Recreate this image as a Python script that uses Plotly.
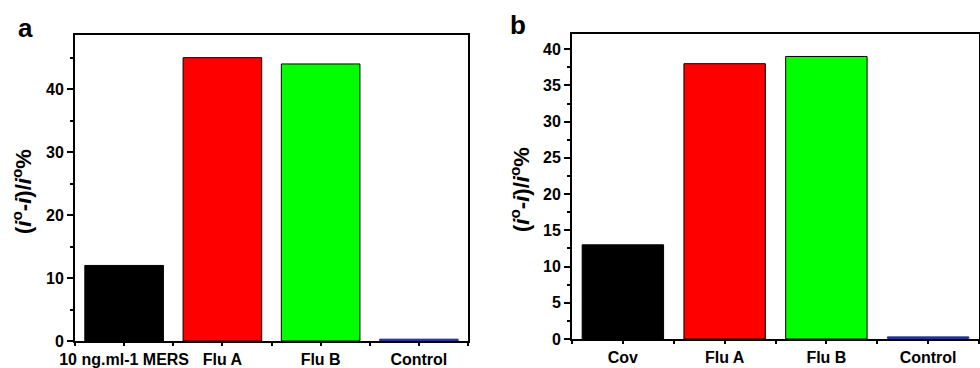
import plotly.graph_objects as go

cats_a = ["10 ng.ml-1 MERS", "Flu A", "Flu B", "Control"]
vals_a = [12, 45, 44, 0.3]
cats_b = ["Cov", "Flu A", "Flu B", "Control"]
vals_b = [13, 38, 39, 0.3]
colors = ["#000000", "#ff0000", "#00ff00", "#1a237e"]
line_colors = ["#000000", "#000000", "#000000", "#3949ab"]

W, H = 980, 368
FONT = "Liberation Sans, Arial, sans-serif"

fig = go.Figure()
fig.add_trace(go.Bar(x=list(range(4)), y=vals_a, width=0.8, marker=dict(color=colors, line=dict(color=line_colors, width=1)),
                     xaxis="x", yaxis="y", showlegend=False))
fig.add_trace(go.Bar(x=list(range(4)), y=vals_b, width=0.8, marker=dict(color=colors, line=dict(color=line_colors, width=1)),
                     xaxis="x2", yaxis="y2", showlegend=False))

axis_common = dict(showline=True, linecolor="black", linewidth=2, mirror=True, showgrid=False, zeroline=False,
                   ticks="outside", tickcolor="black", tickwidth=2, ticklen=6, automargin=False,
                   tickfont=dict(family=FONT, size=16, color="black", weight="bold"))

def px_x(p):
    return p / W

def px_y(p):
    return 1 - p / H

xminor = dict(tickmode="linear", tick0=0.5, dtick=1, ticks="outside", ticklen=3, tickwidth=2, tickcolor="black")
xa = dict(axis_common, domain=[px_x(75), px_x(468)], range=[-0.5, 3.5], tickmode="array",
          tickvals=list(range(4)), ticktext=cats_a, anchor="y", ticklen=3, minor=xminor)
ya = dict(axis_common, domain=[px_y(341), px_y(35)], range=[0, 48.6], dtick=10, anchor="x",
          minor=dict(dtick=5, ticks="outside", ticklen=3, tickwidth=2, tickcolor="black"))
xb = dict(axis_common, domain=[px_x(572), px_x(979)], range=[-0.5, 3.5], tickmode="array",
          tickvals=list(range(4)), ticktext=cats_b, anchor="y2", ticklen=3, minor=xminor)
yb = dict(axis_common, domain=[px_y(339), px_y(34)], range=[0, 42.1], dtick=5, anchor="x2",
          minor=dict(dtick=2.5, ticks="outside", ticklen=3, tickwidth=2, tickcolor="black"))

title_txt = "<b>(<i>i</i><sup>o</sup>-<i>i</i>)/<i>i</i><sup>o</sup>%</b>"
annotations = [
    dict(text="<b>a</b>", x=px_x(25), y=px_y(28), xref="paper", yref="paper", showarrow=False,
         font=dict(family=FONT, size=26, color="black"), xanchor="center", yanchor="middle"),
    dict(text="<b>b</b>", x=px_x(518), y=px_y(25), xref="paper", yref="paper", showarrow=False,
         font=dict(family=FONT, size=26, color="black"), xanchor="center", yanchor="middle"),
    dict(text=title_txt, x=px_x(22), y=px_y(192), xref="paper", yref="paper", showarrow=False, textangle=-90,
         font=dict(family=FONT, size=22, color="black"), xanchor="center", yanchor="middle"),
    dict(text=title_txt, x=px_x(520), y=px_y(190), xref="paper", yref="paper", showarrow=False, textangle=-90,
         font=dict(family=FONT, size=22, color="black"), xanchor="center", yanchor="middle"),
]

fig.update_layout(width=W, height=H, margin=dict(l=0, r=0, t=0, b=0, autoexpand=False), plot_bgcolor="white",
                  paper_bgcolor="white", xaxis=xa, yaxis=ya, xaxis2=xb, yaxis2=yb, annotations=annotations, bargap=0.2)
fig.write_html("out.html", config={"displayModeBar": False},
               post_script="document.body.style.margin='0';document.body.style.padding='0';")
